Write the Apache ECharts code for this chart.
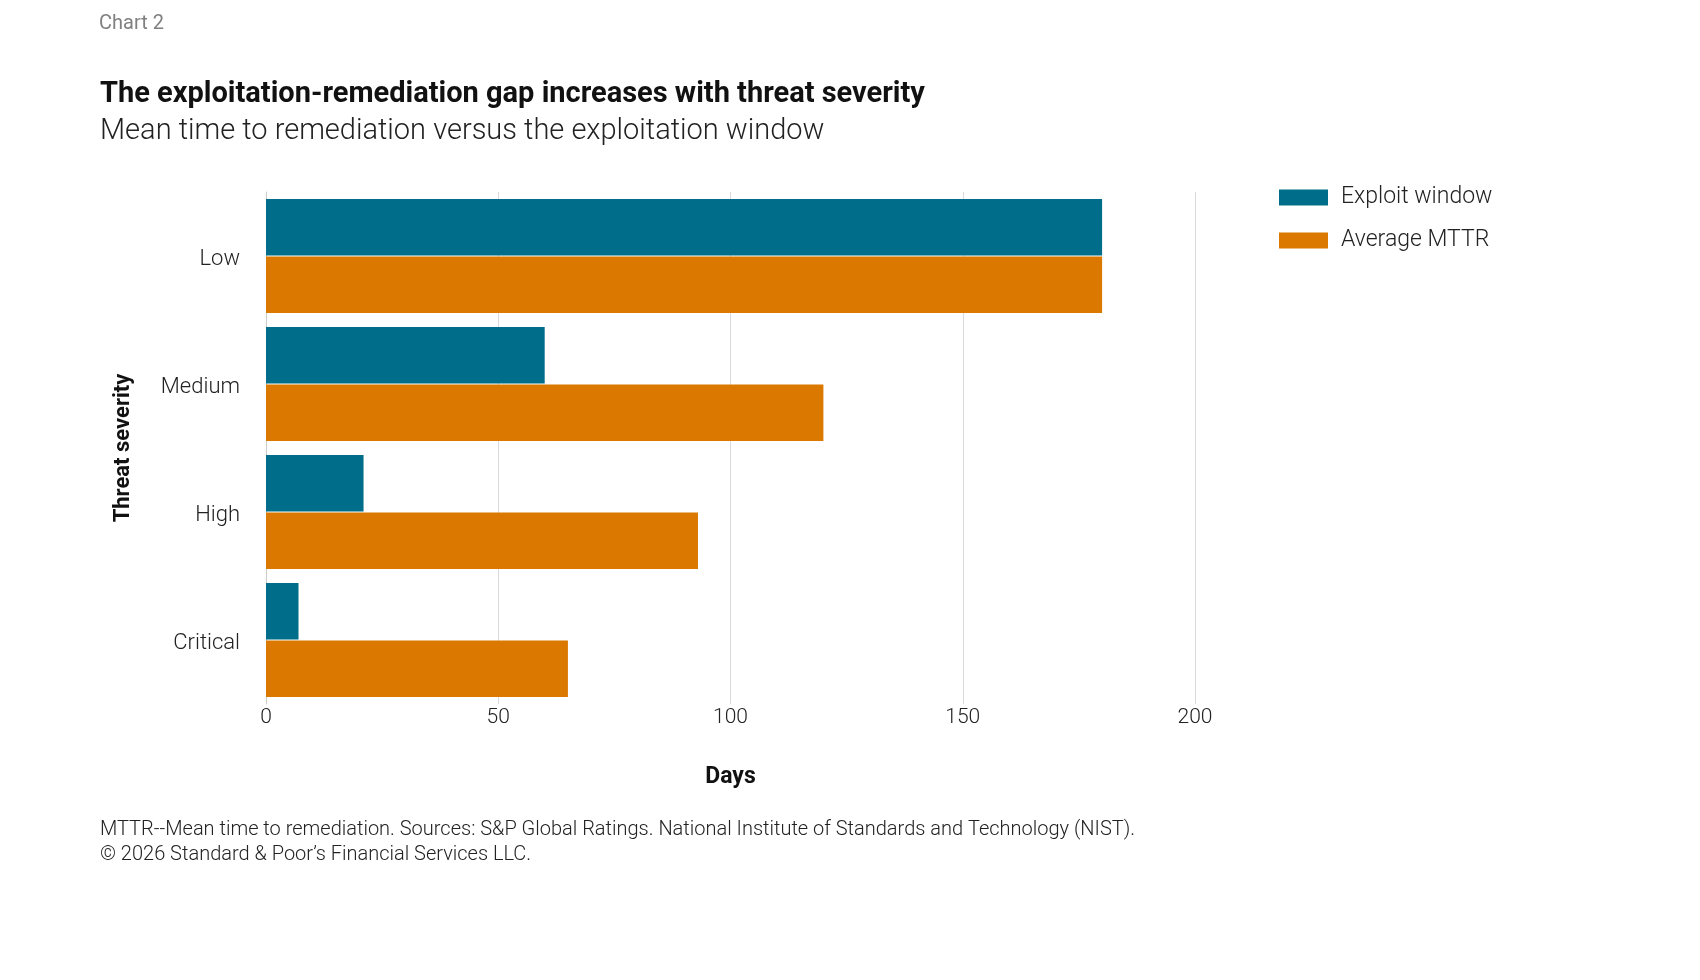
<!DOCTYPE html>
<html>
<head>
<meta charset="utf-8">
<title>Chart 2</title>
<script src="https://cdn.jsdelivr.net/npm/echarts/dist/echarts.min.js"></script>
<style>
	html, body { margin: 0; padding: 0; background: #fff; }
	#chart { width: 1700px; height: 980px; }
</style>
</head>
<body>
<div id="chart"></div>
<script type="text/javascript">
	// data
	var categories = ['Low', 'Medium', 'High', 'Critical'];
	var exploitWindow = [180, 60, 21, 7];
	var averageMttr = [180, 120, 93, 65];
	var xTicks = [0, 50, 100, 150, 200];

	var FONT = 'Roboto, "Noto Sans", sans-serif';
	var TEAL = '#006e8a';
	var ORANGE = '#db7800';

	var myChart = echarts.init(document.getElementById('chart'));
	var option = {
		backgroundColor: '#fff',
		textStyle: { fontFamily: FONT },
		animation: false,
		grid: { left: 266, right: 505, top: 192, bottom: 276 },
		legend: {
			left: 1274,
			top: 181,
			orient: 'vertical',
			itemWidth: 49,
			itemHeight: 16,
			itemGap: 20,
			icon: 'rect',
			textStyle: { fontSize: 23, fontWeight: 300, color: '#222', lineHeight: 16, padding: [0, 0, 0, 8] },
			data: ['Exploit window', 'Average MTTR']
		},
		xAxis: {
			type: 'value',
			min: xTicks[0],
			max: xTicks[xTicks.length - 1],
			interval: 50,
			name: 'Days',
			nameLocation: 'middle',
			nameGap: 62,
			nameTextStyle: { fontSize: 23, fontWeight: 'bold', color: '#111' },
			axisLine: { show: false },
			axisTick: { show: false },
			axisLabel: { fontSize: 21, fontWeight: 300, color: '#222', margin: 3 },
			splitLine: { lineStyle: { color: '#d9d9d9', width: 1 } }
		},
		yAxis: {
			type: 'category',
			inverse: true,
			data: categories,
			name: 'Threat severity',
			nameLocation: 'middle',
			nameGap: 132,
			nameRotate: 90,
			nameTextStyle: { fontSize: 22, fontWeight: 'bold', color: '#111' },
			axisLine: { lineStyle: { color: '#cccccc', width: 1 } },
			axisTick: { length: 13, lineStyle: { color: '#cccccc' } },
			axisLabel: { fontSize: 22, fontWeight: 300, color: '#222', margin: 26, verticalAlign: 'top', lineHeight: 7 }
		},
		series: [
			{
				name: 'Exploit window',
				type: 'bar',
				data: exploitWindow,
				itemStyle: { color: TEAL },
				barGap: '2%',
				barCategoryGap: '11%'
			},
			{
				name: 'Average MTTR',
				type: 'bar',
				data: averageMttr,
				itemStyle: { color: ORANGE },
				barGap: '2%',
				barCategoryGap: '11%'
			}
		],
		graphic: [
			{ type: 'text', left: 99, top: 14, style: { text: 'Chart 2', fontSize: 20, fontFamily: FONT, fill: '#808080' } },
			{ type: 'text', left: 100, top: 80, style: { text: 'The exploitation-remediation gap increases with threat severity', fontSize: 29, fontWeight: 'bold', fontFamily: FONT, fill: '#111' } },
			{ type: 'text', left: 100, top: 117, style: { text: 'Mean time to remediation versus the exploitation window', fontSize: 29, fontWeight: 300, fontFamily: FONT, fill: '#222' } },
			{ type: 'text', left: 100, top: 820, style: { text: 'MTTR--Mean time to remediation. Sources: S&P Global Ratings. National Institute of Standards and Technology (NIST).', fontSize: 20, fontWeight: 300, fontFamily: FONT, fill: '#222' } },
			{ type: 'text', left: 100, top: 845, style: { text: '\u00a9 2026 Standard & Poor\u2019s Financial Services LLC.', fontSize: 20, fontWeight: 300, fontFamily: FONT, fill: '#222' } }
		]
	};
	myChart.setOption(option);
</script>
</body>
</html>
